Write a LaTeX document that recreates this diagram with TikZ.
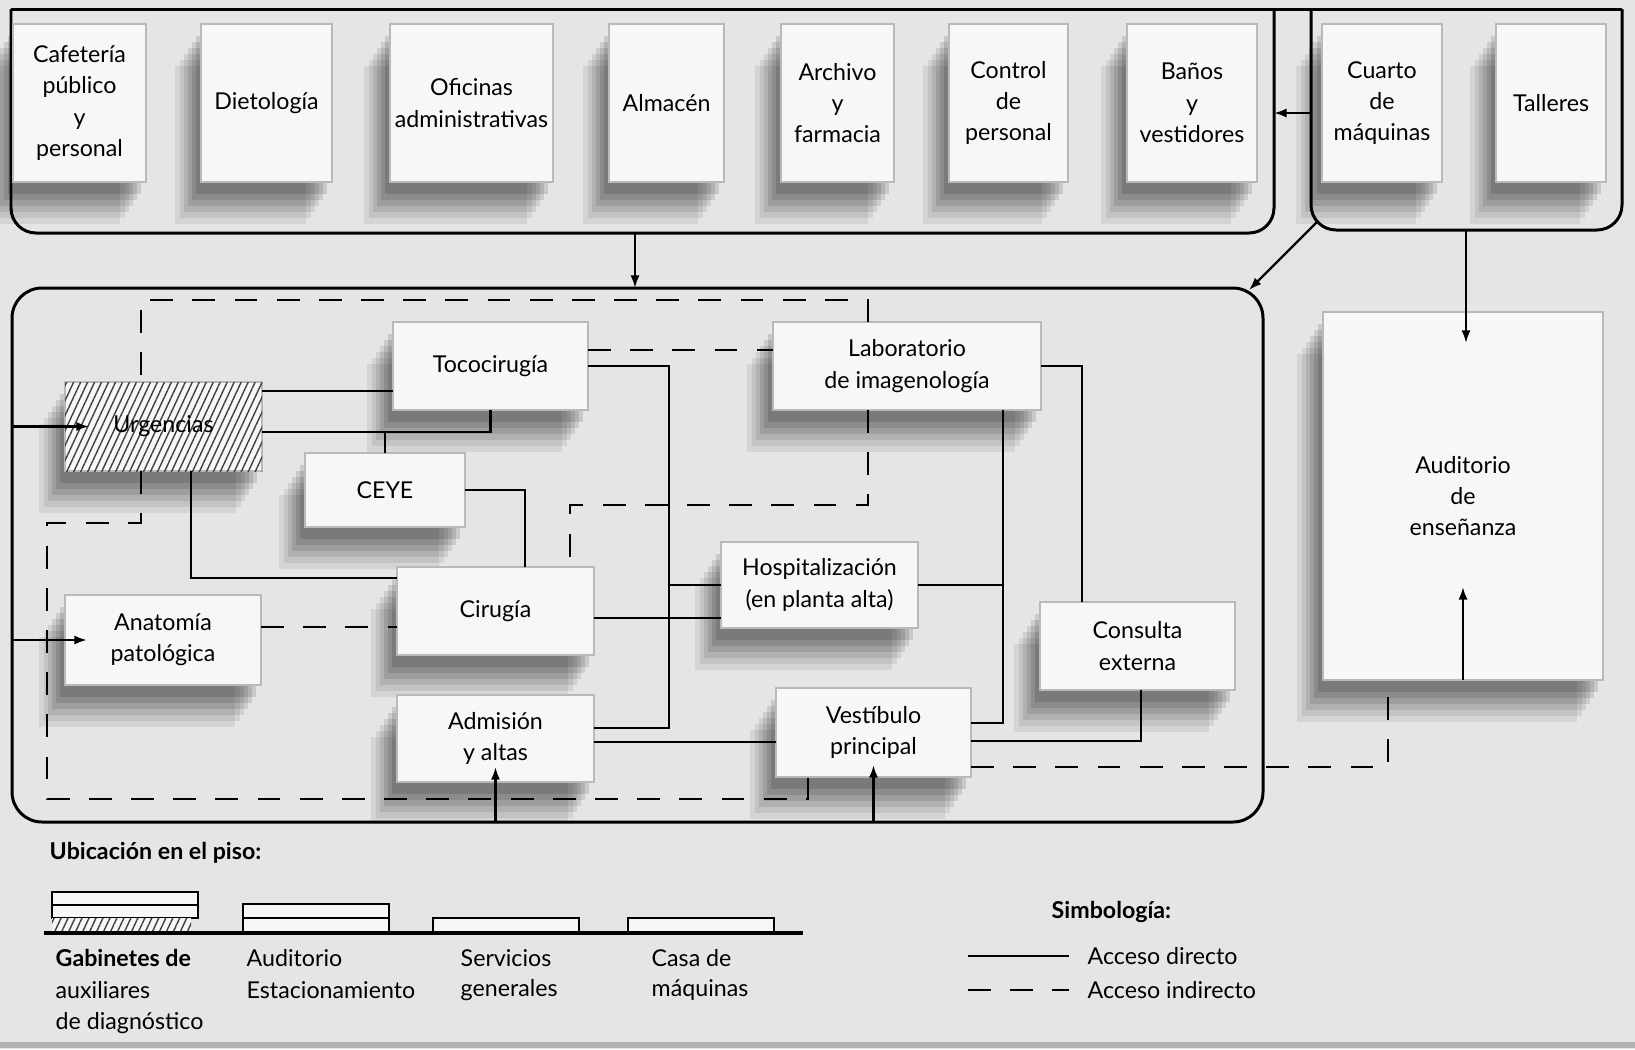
\documentclass[tikz,border=0pt]{standalone}
\usepackage{fontspec}
\setmainfont{Lato}
\usetikzlibrary{arrows.meta,shadows,patterns.meta}

\newcommand{\roomfont}{\fontsize{6.6}{8.9}\selectfont}

\begin{document}
\begin{tikzpicture}[x=0.1mm, y=-0.1mm,
    every node/.style={font=\roomfont},
    roomshadow/.style={
      general shadow={fill=black, opacity=.07, shadow xshift=-2.6mm, shadow yshift=-4.2mm},
      general shadow={fill=black, opacity=.08, shadow xshift=-2.1mm, shadow yshift=-3.6mm},
      general shadow={fill=black, opacity=.09, shadow xshift=-1.7mm, shadow yshift=-3.0mm},
      general shadow={fill=black, opacity=.10, shadow xshift=-1.3mm, shadow yshift=-2.4mm},
      general shadow={fill=black, opacity=.11, shadow xshift=-0.9mm, shadow yshift=-1.8mm},
      general shadow={fill=black, opacity=.12, shadow xshift=-0.5mm, shadow yshift=-1.2mm}},
    room/.style={draw=gray!55, line width=0.3pt, fill=gray!6, align=center,
      inner sep=0pt, outer sep=0pt, roomshadow},
    toprow/.style={room, minimum height=15.8mm},
    hatched/.style={postaction={pattern={Lines[angle=65,distance=1.8pt,line width=0.4pt]},
      pattern color=black!75}},
    hub/.style={line width=0.85pt},
    link/.style={line width=0.65pt},
    indirect/.style={link, dash pattern=on 6.5pt off 5.5pt},
    arr/.style={link, -{Latex[length=3.6pt,width=2.6pt]}},
    floor/.style={draw, line width=0.5pt, fill=gray!6},
    caption/.style={anchor=west, inner sep=0pt}]

  \useasboundingbox (0,0) rectangle (1635,1049);
  \fill[gray!20] (0,0) rectangle (1635,1049);
  \draw[gray!60, line width=1.5pt] (0,1045) -- (1635,1045);

  % servicios generales y casa de maquinas
  \coordinate (genNW) at (11,9);
  \coordinate (genSE) at (1274,233);
  \coordinate (maqNW) at (1311,9);
  \coordinate (maqSE) at (1622,230);
  \draw[hub, rounded corners=2.5mm] (genNW) |- (genSE) -- (genSE |- genNW);
  \draw[hub, rounded corners=2.5mm] (maqNW) |- (maqSE) -- (maqSE |- maqNW);
  \draw[hub] (genNW) -- (maqSE |- maqNW);

  \node[toprow, minimum width=13.3mm] (cafe) at (79.5,103) {Cafetería\\público\\y\\personal};
  \node[toprow, minimum width=13.1mm] (dieto) at (266.5,103) {Dietología};
  \node[toprow, minimum width=16.3mm] (ofic) at (471.5,103) {Oficinas\\administrativas};
  \node[toprow, minimum width=11.5mm] (almacen) at (666.5,103) {Almacén};
  \node[toprow, minimum width=11.3mm] (archivo) at (837.5,103) {Archivo\\y\\farmacia};
  \node[toprow, minimum width=11.9mm] (control) at (1008.5,103) {Control\\de\\personal};
  \node[toprow, minimum width=13.0mm] (banos) at (1192,103) {Baños\\y\\vestidores};
  \node[toprow, minimum width=12.0mm] (cuarto) at (1382,103) {Cuarto\\de\\máquinas};
  \node[toprow, minimum width=11.0mm] (talleres) at (1551,103) {Talleres};

  % planta baja
  \node[draw, hub, rounded corners=3mm, inner sep=0pt, outer sep=0pt,
    minimum width=125.1mm, minimum height=53.4mm] (planta) at (637.5,555) {};
  \node[room, minimum width=28mm, minimum height=36.8mm] (audit) at (1463,496) {Auditorio\\de\\enseñanza};

  \node[room, hatched, minimum width=19.7mm, minimum height=8.9mm] (urg) at (163.5,426.5) {Urgencias};
  \node[room, minimum width=19.5mm, minimum height=8.8mm] (toco) at (490.5,366) {Tococirugía};
  \node[room, minimum width=26.8mm, minimum height=8.8mm] (lab) at (907,366) {Laboratorio\\de imagenología};
  \node[room, minimum width=16mm, minimum height=7.4mm] (ceye) at (385,490) {CEYE};
  \node[room, minimum width=19.7mm, minimum height=8.8mm] (ciru) at (495.5,611) {Cirugía};
  \node[room, minimum width=19.7mm, minimum height=8.6mm] (hosp) at (819.5,585) {Hospitalización\\(en planta alta)};
  \node[room, minimum width=19.6mm, minimum height=9mm] (anat) at (163,640) {Anatomía\\patológica};
  \node[room, minimum width=19.5mm, minimum height=8.8mm] (cons) at (1137.5,646) {Consulta\\externa};
  \node[room, minimum width=19.7mm, minimum height=8.7mm] (adm) at (495.5,738.5) {Admisión\\y altas};
  \node[room, minimum width=19.5mm, minimum height=8.9mm] (vest) at (873.5,732.5) {Vestíbulo\\principal};

  % acceso directo
  \coordinate (j1) at (385,432);
  \coordinate (j2) at (669,728);
  \coordinate (j3) at (1003,723);
  \draw[link] (urg.east |- 0,391) -- (toco.west |- 0,391);
  \draw[link] (urg.east |- j1) -| (toco.south);
  \draw[link] (j1) -- (ceye.north);
  \draw[link] (ceye.east) -| (ciru.north -| 525,0);
  \draw[link] (urg.south -| 191,0) |- (ciru.west |- 0,578);
  \draw[link] (toco.east) -| (j2) -- (adm.east |- j2);
  \draw[link] (hosp.west) -- (hosp.west -| j2);
  \draw[link] (ciru.east |- 0,618) -- (hosp.west |- 0,618);
  \draw[link] (lab.south -| j3) -- (j3) -- (vest.east |- j3);
  \draw[link] (hosp.east) -- (hosp.east -| j3);
  \draw[link] (lab.east) -| (cons.north -| 1082,0);
  \draw[link] (cons.south -| 1141,0) |- (vest.east |- 0,741);
  \draw[link] (adm.east |- 0,742) -- (vest.west |- 0,742);

  % acceso indirecto
  \draw[indirect] (lab.north -| 868,0) -- (868,300) -- (141,300) -- (urg.north -| 141,0);
  \draw[indirect] (urg.south -| 141,0) -- (141,523) -- (47,523) -- (47,799) -- (808,799) -- (vest.south -| 808,0);
  \draw[indirect] (lab.south -| 868,0) -- (868,505) -- (570,505) -- (ciru.north -| 570,0);
  \draw[indirect] (toco.east |- 0,350) -- (lab.west |- 0,350);
  \draw[indirect] (anat.east |- 0,627) -- (ciru.west |- 0,627);
  \draw[indirect] (vest.east |- 0,767) -- (1388,767) -- (audit.south -| 1388,0);

  % entradas
  \coordinate (genS) at (635,233);
  \coordinate (maqSW) at (1317,222);
  \coordinate (plantaNE) at (1249,290);
  \coordinate (maqW) at (1311,113);
  \coordinate (maqS) at (1466,230);
  \coordinate (auditIn) at (1466,343);
  \draw[arr] (planta.west |- urg) -- ([xshift=2.4mm]urg.west);
  \draw[arr] (planta.west |- anat) -- ([xshift=2.2mm]anat.west);
  \draw[arr] (adm.south |- planta.south) -- ([yshift=1.5mm]adm.south);
  \draw[arr] (vest.south |- planta.south) -- ([yshift=1.2mm]vest.south);
  \draw[arr] (genS) -- (genS |- planta.north);
  \draw[arr] (maqSW) -- (plantaNE);
  \draw[arr] (maqW) -- (maqW -| genSE);
  \draw[arr] (maqS) -- (auditIn);
  \draw[arr] (audit.south) -- ([yshift=9.3mm]audit.south);

  % ubicacion en el piso
  \node[caption, font=\roomfont\bfseries] (ubic) at (49,853) {Ubicación en el piso:};
  \draw[floor] (52,892) rectangle (198,905);
  \draw[floor] (52,905) rectangle (198,918);
  \path[fill=gray!6, hatched] (52,918) rectangle (191,933);
  \draw[floor] (243,904) rectangle (389,918);
  \draw[floor] (243,918) rectangle (389,933);
  \draw[floor] (433,918) rectangle (579,933);
  \draw[floor] (628,918) rectangle (774,933);
  \draw[line width=1.2pt] (44,933) -- (803,933);

  \node[caption, font=\roomfont\bfseries] (gab1) at (55,958) {Gabinetes de};
  \node[caption] (gab2) at (55,990) {auxiliares};
  \node[caption] (gab3) at (55,1023) {de diagnóstico};
  \node[caption] (aud1) at (246,958) {Auditorio};
  \node[caption] (aud2) at (246,990) {Estacionamiento};
  \node[caption] (serv1) at (460,958) {Servicios};
  \node[caption] (serv2) at (460,990) {generales};
  \node[caption] (casa1) at (651,958) {Casa de};
  \node[caption] (casa2) at (651,990) {máquinas};

  % simbologia
  \node[caption, font=\roomfont\bfseries] (simb) at (1051,912) {Simbología:};
  \node[caption] (direct) at (1087,956) {Acceso directo};
  \node[caption] (indir) at (1087,990) {Acceso indirecto};
  \draw[link] (968,956) -- (direct.west -| 1069,0);
  \draw[indirect] (968,990) -- (indir.west -| 1069,0);
\end{tikzpicture}
\end{document}
